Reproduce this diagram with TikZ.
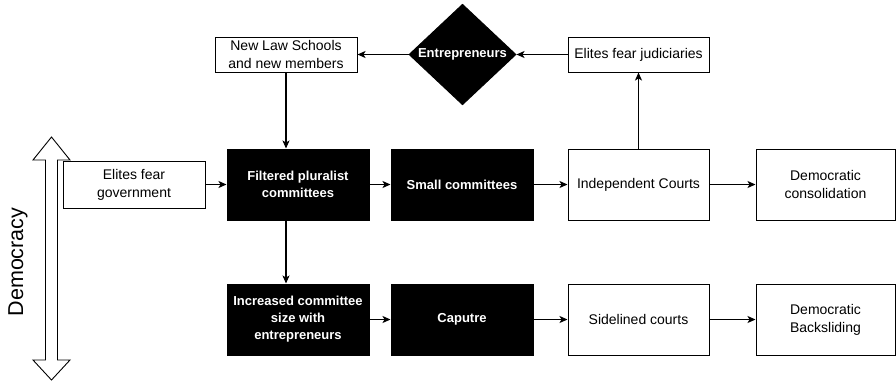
\documentclass[tikz,border=0pt]{standalone}
\usepackage{fontspec}
\setmainfont{Liberation Sans}
\usetikzlibrary{arrows.meta,shapes.geometric}

\begin{document}
\begin{tikzpicture}[
    x=1pt, y=-1pt,
    line width=1pt,
    % Define the style for the plain (white) boxes
    plain/.style={draw, fill=white, align=center, inner sep=2pt,
        font=\fontsize{14}{18}\selectfont},
    % Define the style for the filled (black) boxes
    dark/.style={draw, fill=black, text=white, align=center, inner sep=2pt,
        font=\fontsize{13}{17}\selectfont\bfseries},
    % Sizes of the boxes
    big/.style={minimum width=142pt, minimum height=71pt},
    flat/.style={minimum width=142pt, minimum height=35pt},
    % Define the style for the connectors
    link/.style={-{Stealth[length=8pt, width=7pt, inset=2pt]}, line width=1.1pt}
]
    \useasboundingbox (0,0) rectangle (896,381);

    % --- Democracy axis (double arrow) ---
    \draw[line width=0.9pt] (51.5,137) -- (70,160) -- (57.5,160) -- (57.5,360)
        -- (70,360) -- (51.5,380) -- (33,360) -- (45.5,360) -- (45.5,160)
        -- (33,160) -- cycle;
    \node[rotate=90, font=\fontsize{21.5}{25}\selectfont] (axis) at (18,262) {Democracy};

    % --- Top row ---
    \node[plain, flat] (law) at (286,54.5) {New Law Schools\\and new members};
    \node[dark, diamond, minimum width=107pt, minimum height=95pt, inner sep=0pt]
        (entre) at (462.5,54.5) {Entrepreneurs};
    \node[plain, flat, minimum width=141pt] (judi) at (638.5,54.5) {Elites fear judiciaries};

    % --- Middle row ---
    \node[plain, minimum width=142pt, minimum height=47pt] (gov) at (134,184.5) {Elites fear\\government};
    \node[dark, big] (filt) at (298,184.5) {Filtered pluralist\\committees};
    \node[dark, big] (small) at (462,184.5) {Small committees};
    \node[plain, big, minimum width=141pt] (indep) at (638.5,184.5) {Independent Courts};
    \node[plain, big, minimum width=139pt] (cons) at (825.5,184.5) {Democratic\\consolidation};

    % --- Bottom row ---
    \node[dark, big] (incr) at (298,319.5) {Increased committee\\size with\\entrepreneurs};
    \node[dark, big] (cap) at (462,319.5) {Caputre};
    \node[plain, big, minimum width=141pt] (side) at (638.5,319.5) {Sidelined courts};
    \node[plain, big, minimum width=139pt] (back) at (825.5,319.5) {Democratic\\Backsliding};

    % Connectors
    \draw[link] (judi) -- (entre);
    \draw[link] (entre) -- (law);
    \draw[link] (law.south) -- (law.south |- filt.north);
    \draw[link] (indep) -- (judi);
    \draw[link] (gov) -- (filt);
    \draw[link] (filt) -- (small);
    \draw[link] (small) -- (indep);
    \draw[link] (indep) -- (cons);
    \draw[link] (filt.south -| law.south) -- (incr.north -| law.south);
    \draw[link] (incr) -- (cap);
    \draw[link] (cap) -- (side);
    \draw[link] (side) -- (back);
\end{tikzpicture}
\end{document}
